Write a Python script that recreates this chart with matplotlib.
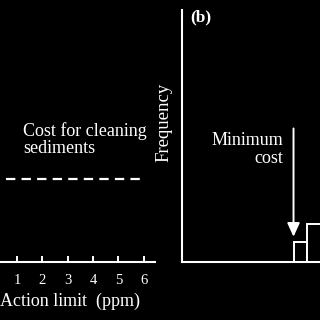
import matplotlib
matplotlib.use("Agg")
import matplotlib.pyplot as plt

plt.rcParams['font.family'] = ['Liberation Serif', 'DejaVu Serif']

# left panel: cleaning cost vs action limit
action_ticks = [1, 2, 3, 4, 5, 6]
cleaning_x = [0.55, 5.85]
cleaning_cost = [0.317, 0.317]

# right panel: histogram of cost
bin_left = [8, 9]
bin_counts = [8, 15]
min_cost_x = 8
arrow_top = 53
arrow_tip = 10

fig = plt.figure(figsize=(3.2, 3.2), dpi=100, facecolor='black')

# left axes
ax1 = fig.add_axes([0, 58/320, 155/320, 262/320])
ax1.set_facecolor('none')
ax1.set_xlim(0.328, 6.45)
ax1.set_ylim(0, 1)
for s in ['top', 'right', 'left']:
    ax1.spines[s].set_visible(False)
ax1.spines['bottom'].set_color('white')
ax1.spines['bottom'].set_linewidth(1.5)
ax1.set_xticks(action_ticks)
ax1.set_yticks([])
ax1.tick_params(axis='x', direction='in', length=4, width=1.4, color='white',
                labelcolor='white', labelsize=10.5, pad=8.5)
ax1.plot(cleaning_x, cleaning_cost, color='white', lw=1.6, dashes=(4.2, 2.8))
ax1.text(1.24, 0.535, 'Cost for cleaning\nsediments', color='white', fontsize=13,
         ha='left', va='top', linespacing=1.05)
ax1.set_xlabel('Action limit  (ppm)', color='white', fontsize=13)
ax1.xaxis.set_label_coords(70/155, -31/262)

# right axes
ax2 = fig.add_axes([182/320, 58/320, 138/320, 252/320])
ax2.set_facecolor('none')
ax2.set_xlim(0, 9.9)
ax2.set_ylim(0, 100)
for s in ['top', 'right']:
    ax2.spines[s].set_visible(False)
for s in ['left', 'bottom']:
    ax2.spines[s].set_color('white')
    ax2.spines[s].set_linewidth(1.5)
ax2.set_xticks([])
ax2.set_yticks([])
ax2.bar(bin_left, bin_counts, width=1, align='edge', facecolor='black',
        edgecolor='white', lw=1.4)
ax2.annotate('', xy=(min_cost_x, arrow_tip), xytext=(min_cost_x, arrow_top),
             arrowprops=dict(arrowstyle='-|>,head_length=0.55,head_width=0.25',
                             mutation_scale=15, color='white', lw=1.4,
                             shrinkA=0, shrinkB=0))
ax2.text(7.25, 51.5, 'Minimum\ncost', color='white', fontsize=13,
         ha='right', va='top', multialignment='right', linespacing=1.05)
ax2.text(0.058, 0.972, '(b)', transform=ax2.transAxes, color='white',
         fontsize=12.5, fontweight='bold', ha='left', va='center')
ax2.set_ylabel('Frequency', color='white', fontsize=13.5)
ax2.yaxis.set_label_coords(-10/138, 140/252)

fig.savefig('out.png', dpi=100, facecolor='black')
